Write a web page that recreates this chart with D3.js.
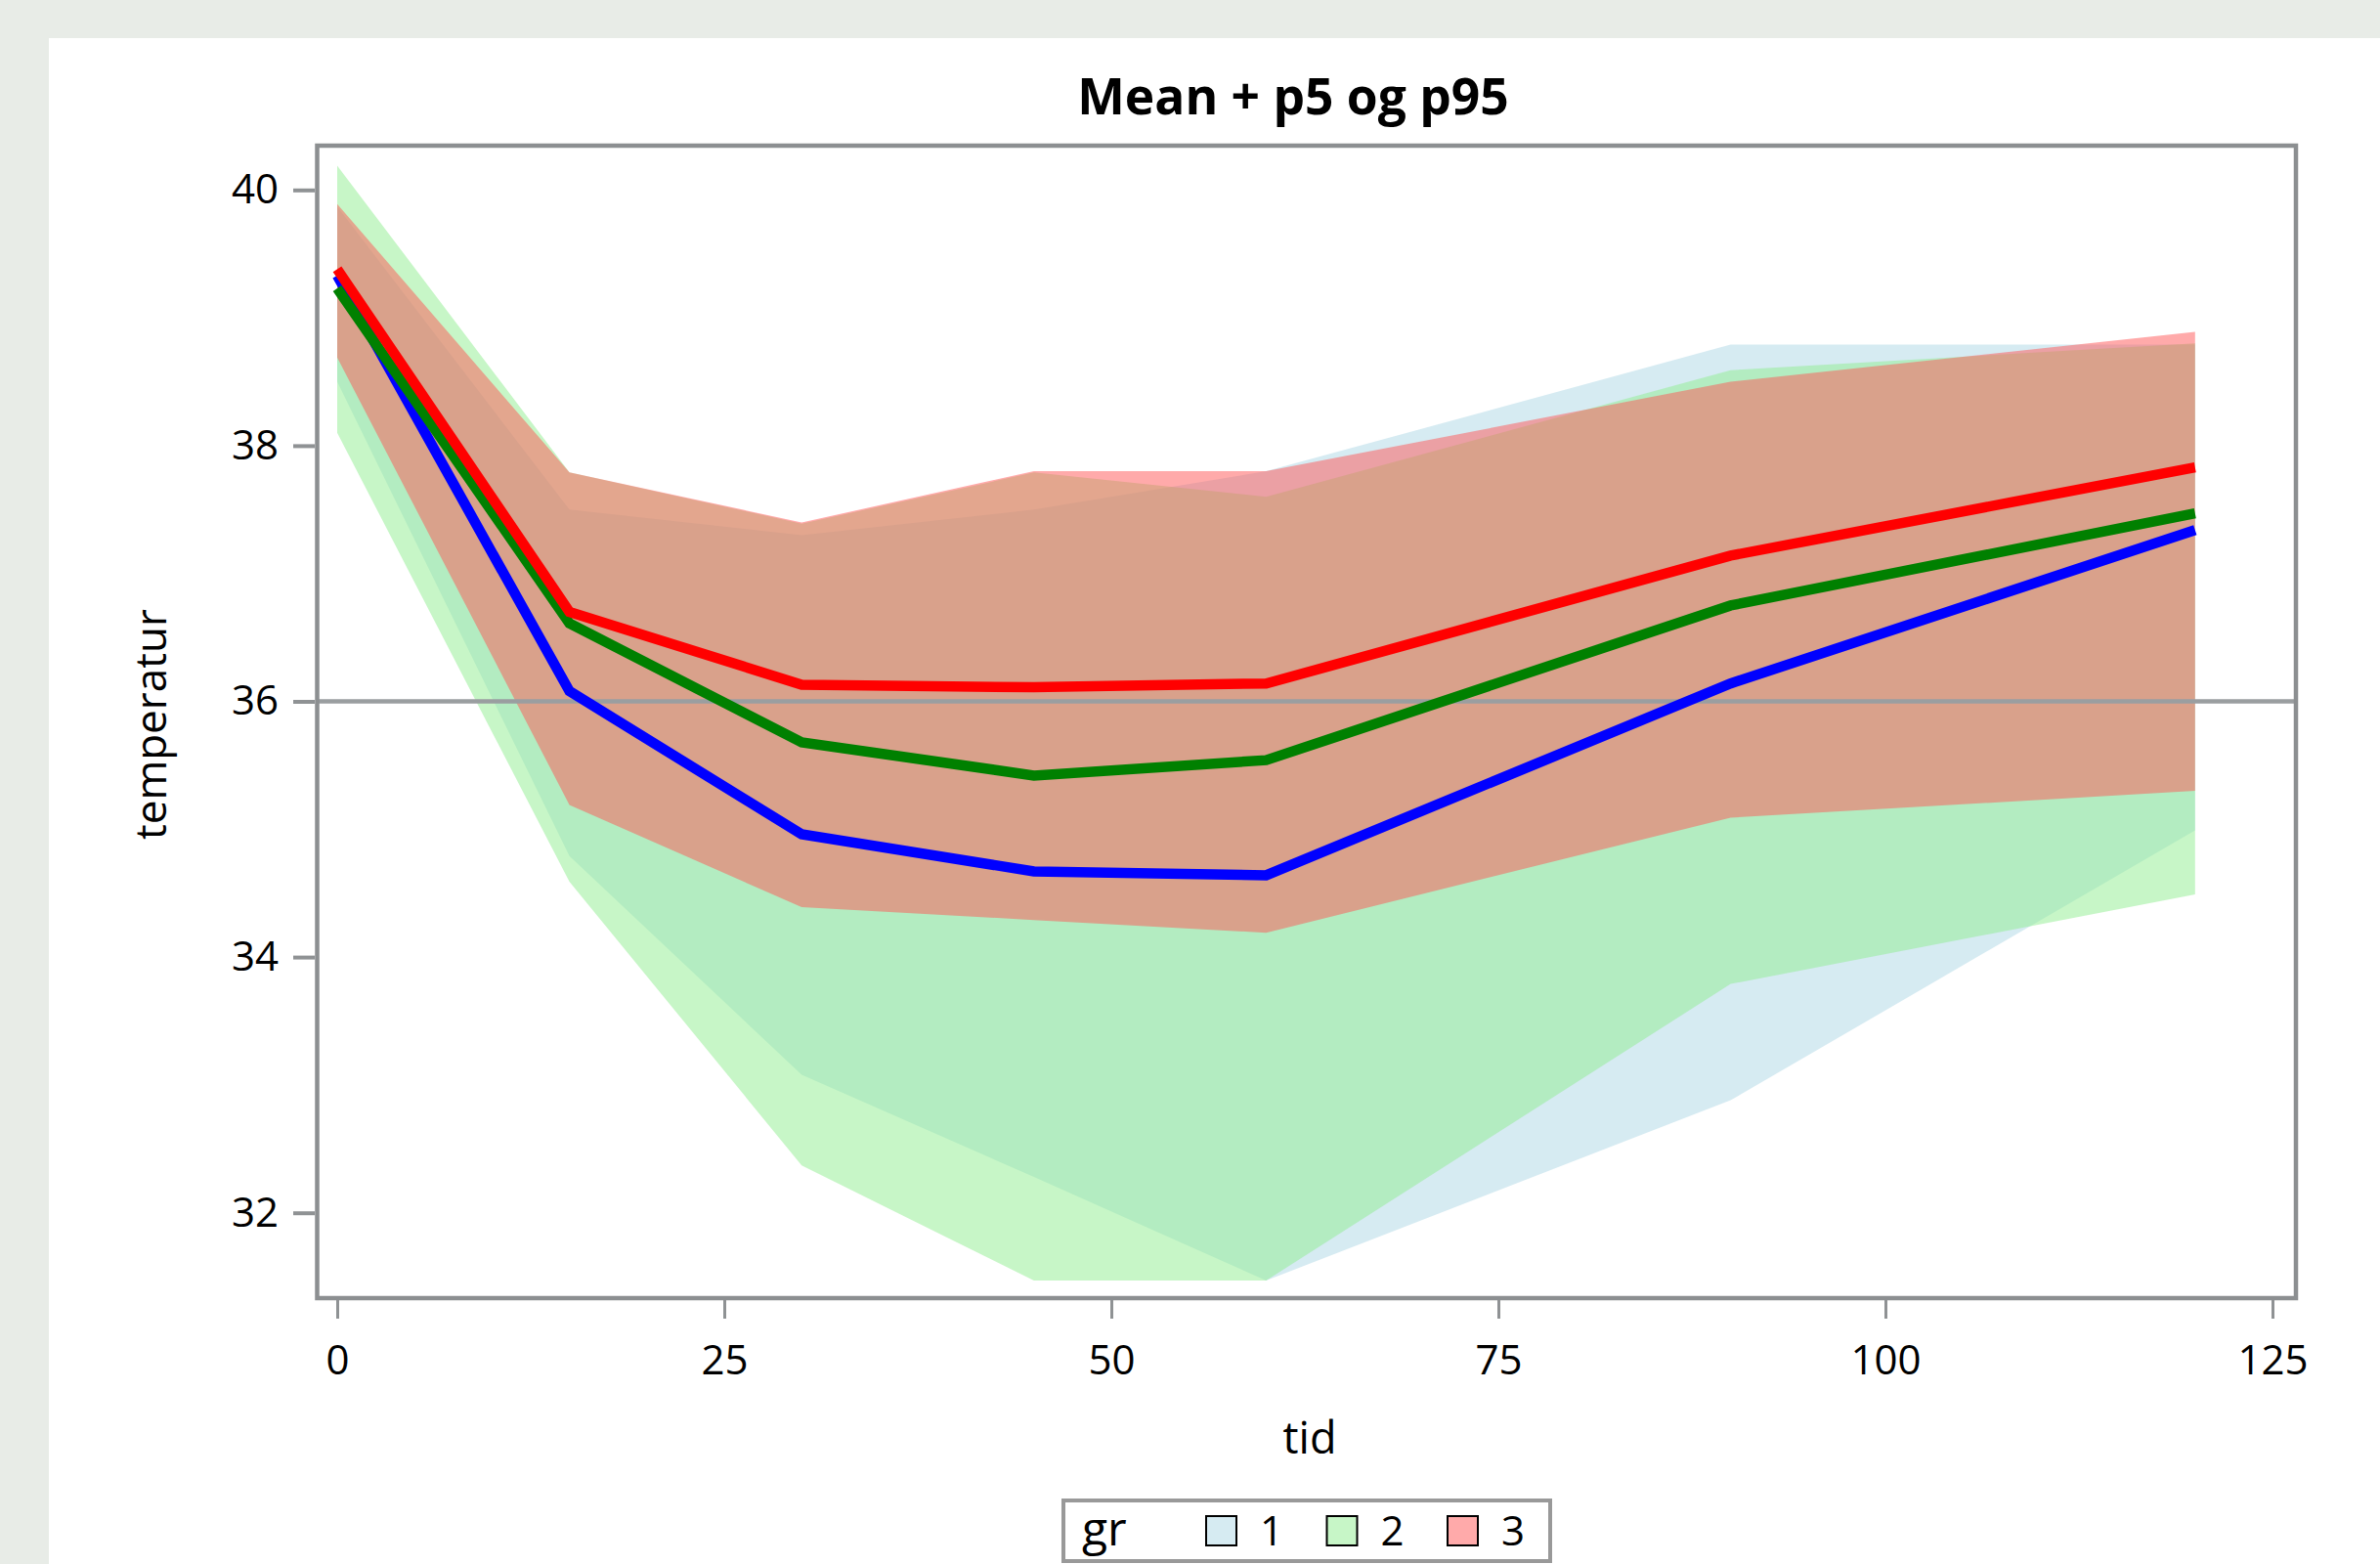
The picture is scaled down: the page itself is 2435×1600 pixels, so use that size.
<!DOCTYPE html>
<html>
<head>
<meta charset="utf-8">
<script src="https://cdn.jsdelivr.net/npm/d3@7"></script>
<style>
	body { margin: 0; background: #e8ece7; }
	svg { display: block; font-family: "Open Sans", "DejaVu Sans", sans-serif; }
</style>
</head>
<body>
<div id="chart"></div>
<script>
// time points (minutes)
var tid = [0, 15, 30, 45, 60, 90, 120];
var groups = ['1', '2', '3'];

// gr 1
var mean1 = [39.33, 36.08, 34.96, 34.67, 34.64, 36.14, 37.34];
var p5_1 = [38.50, 34.79, 33.08, 32.28, 31.47, 32.88, 34.99];
var p95_1 = [39.87, 37.50, 37.30, 37.50, 37.80, 38.79, 38.79];
// gr 2
var mean2 = [39.23, 36.61, 35.68, 35.42, 35.54, 36.75, 37.47];
var p5_2 = [38.10, 34.59, 32.37, 31.47, 31.47, 33.79, 34.49];
var p95_2 = [40.19, 37.79, 37.39, 37.79, 37.60, 38.59, 38.80];
// gr 3
var mean3 = [39.38, 36.70, 36.13, 36.11, 36.14, 37.14, 37.83];
var p5_3 = [38.69, 35.19, 34.39, 34.29, 34.19, 35.09, 35.30];
var p95_3 = [39.89, 37.79, 37.40, 37.80, 37.80, 38.50, 38.89];

var xTicks = [0, 25, 50, 75, 100, 125];
var yTicks = [32, 34, 36, 38, 40];
var refValue = 36;

var bandColors = ['#add8e6', '#90ee90', '#ff5555'];
var lineColors = ['#0000ff', '#008000', '#ff0000'];

function drawChart(elementName) {
	var W = 2435, H = 1600;
	var frame = {left: 324.5, right: 2349, top: 149, bottom: 1328};

	var xscale = d3.scaleLinear().domain([0, 125]).range([345, 2325]);
	var yscale = d3.scaleLinear().domain([32, 40]).range([1240.7, 194.3]);

	var svg = d3.select(elementName)
		.append('svg')
		.attr('width', W)
		.attr('height', H);

	svg.append('rect').attr('width', W).attr('height', H).style('fill', '#e8ece7');
	svg.append('rect').attr('x', 50).attr('y', 39).attr('width', W - 50).attr('height', H - 39).style('fill', '#ffffff');

	var means = [mean1, mean2, mean3];
	var lows = [p5_1, p5_2, p5_3];
	var highs = [p95_1, p95_2, p95_3];

	var series = groups.map(function(g, i) {
		return tid.map(function(t, j) {
			return {t: t, mean: means[i][j], lo: lows[i][j], hi: highs[i][j]};
		});
	});

	var area = d3.area()
		.x(function(d) { return xscale(d.t); })
		.y0(function(d) { return yscale(d.lo); })
		.y1(function(d) { return yscale(d.hi); });

	var line = d3.line()
		.x(function(d) { return xscale(d.t); })
		.y(function(d) { return yscale(d.mean); });

	// bands
	svg.append('g').selectAll('path').data(series)
		.enter().append('path')
		.attr('d', area)
		.style('fill', function(d, i) { return bandColors[i]; })
		.style('fill-opacity', 0.5);

	// reference line
	svg.append('line')
		.attr('x1', frame.left).attr('x2', frame.right)
		.attr('y1', yscale(refValue)).attr('y2', yscale(refValue))
		.style('stroke', '#9a9ea0')
		.style('stroke-width', 4.5);

	// mean lines
	svg.append('g').selectAll('path').data(series)
		.enter().append('path')
		.attr('d', line)
		.style('fill', 'none')
		.style('stroke', function(d, i) { return lineColors[i]; })
		.style('stroke-width', 10.5);

	// frame
	svg.append('rect')
		.attr('x', frame.left).attr('y', frame.top)
		.attr('width', frame.right - frame.left)
		.attr('height', frame.bottom - frame.top)
		.style('fill', 'none')
		.style('stroke', '#8c8f91')
		.style('stroke-width', 4.5);

	var vaxis = d3.axisLeft(yscale).tickValues(yTicks).tickSize(22).tickPadding(15);
	var vguide = svg.append('g').attr('transform', 'translate(322, 0)');
	vaxis(vguide);
	vguide.select('.domain').remove();
	vguide.selectAll('line').style('stroke', '#8f9294').style('stroke-width', 4);
	vguide.selectAll('text')
		.style('font-size', '42px')
		.style('fill', '#000')
		.style('font-family', '"Open Sans", sans-serif');

	var haxis = d3.axisBottom(xscale).tickValues(xTicks).tickSize(19).tickPadding(27);
	var hguide = svg.append('g').attr('transform', 'translate(0, 1330)');
	haxis(hguide);
	hguide.select('.domain').remove();
	hguide.selectAll('line').style('stroke', '#8f9294').style('stroke-width', 3);
	hguide.selectAll('text')
		.style('font-size', '42px')
		.style('fill', '#000')
		.style('font-family', '"Open Sans", sans-serif');

	// titles
	svg.append('text')
		.attr('x', 1323).attr('y', 117)
		.attr('text-anchor', 'middle')
		.style('font-size', '51.5px')
		.style('font-weight', 'bold')
		.text('Mean + p5 og p95');

	svg.append('text')
		.attr('x', 1340).attr('y', 1487)
		.attr('text-anchor', 'middle')
		.style('font-size', '45px')
		.text('tid');

	svg.append('text')
		.attr('transform', 'translate(170, 741) rotate(-90)')
		.attr('text-anchor', 'middle')
		.style('font-size', '44px')
		.text('temperatur');

	// legend
	var legend = svg.append('g');
	legend.append('rect')
		.attr('x', 1088).attr('y', 1535)
		.attr('width', 498).attr('height', 62)
		.style('fill', '#fff')
		.style('stroke', '#999')
		.style('stroke-width', 4);
	legend.append('text')
		.attr('x', 1107).attr('y', 1581)
		.style('font-size', '48px')
		.text('gr');

	var items = legend.selectAll('g.item').data(groups)
		.enter().append('g')
		.attr('class', 'item')
		.attr('transform', function(d, i) { return 'translate(' + (1234 + i * 123.5) + ', 1551)'; });
	items.append('rect')
		.attr('width', 31).attr('height', 30)
		.style('fill', function(d, i) { return bandColors[i]; })
		.style('fill-opacity', 0.5)
		.style('stroke', '#000')
		.style('stroke-width', 2);
	items.append('text')
		.attr('x', 55).attr('y', 30)
		.style('font-size', '42px')
		.text(function(d) { return d; });
}

drawChart('#chart');
</script>
</body>
</html>
